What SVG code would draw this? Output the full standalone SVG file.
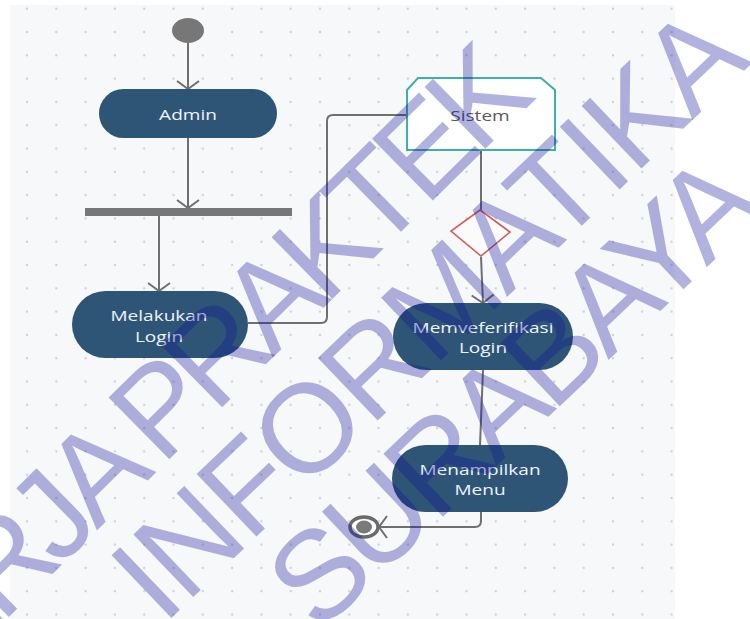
<svg xmlns="http://www.w3.org/2000/svg" width="750" height="619" viewBox="0 0 750 619">
  <defs>
    <pattern id="dots" x="12.35" y="20.35" width="29.3" height="23.3" patternUnits="userSpaceOnUse">
      <circle cx="14.65" cy="11.65" r="1.2" fill="#cfd1d6"/>
    </pattern>
    <marker id="arrow" markerUnits="userSpaceOnUse" markerWidth="20" markerHeight="26" refX="10" refY="13" orient="auto">
      <path d="M2,2 L10,13 L2,24" fill="none" stroke="#6f6f6f" stroke-width="2"/>
    </marker>
    <style>
      .edge { fill: none; stroke: #6f6f6f; stroke-width: 2; }
      .action { fill: #2f5576; }
      .label { font-family: "Open Sans", "Liberation Sans", sans-serif; font-size: 15px; fill: #eef3f8; text-anchor: middle; }
      .dark { fill: #5a5a5a; }
      .mark { font-family: "Liberation Sans", Arial, sans-serif; font-size: 126px; fill: #10109a; fill-opacity: 0.32; }
    </style>
  </defs>

  <!-- canvas -->
  <rect x="0" y="0" width="750" height="619" fill="#ffffff"/>
  <rect x="10" y="5" width="665" height="614" fill="#f7f8fa"/>
  <rect x="10" y="5" width="665" height="614" fill="url(#dots)"/>

  <!-- connectors -->
  <g id="connectors">
    <path class="edge" d="M188,43 L188,89" marker-end="url(#arrow)"/>
    <path class="edge" d="M188,138 L188,208" marker-end="url(#arrow)"/>
    <path class="edge" d="M159,216 L159,291" marker-end="url(#arrow)"/>
    <path class="edge" d="M248,323 H321 Q327,323 327,317 V121 Q327,115 333,115 H407"/>
    <path class="edge" d="M481,150 V210"/>
    <path class="edge" d="M481,257 L483,303" marker-end="url(#arrow)"/>
    <path class="edge" d="M483,370 L480,445"/>
    <path class="edge" d="M481,512 V521 Q481,527 475,527 H379" marker-end="url(#arrow)"/>
  </g>

  <!-- nodes -->
  <g id="start">
    <ellipse cx="188" cy="30.5" rx="16" ry="12.5" fill="#777777"/>
  </g>

  <g id="admin">
    <rect class="action" x="99" y="89" width="178" height="49" rx="24.5"/>
    <text class="label" transform="translate(188,119.5) scale(1.27,1)">Admin</text>
  </g>

  <g id="fork">
    <rect x="85" y="208" width="207" height="8" fill="#777777"/>
  </g>

  <g id="melakukan-login">
    <rect class="action" x="72" y="291" width="176" height="67" rx="33.5"/>
    <text class="label" transform="translate(159,321) scale(1.27,1)">Melakukan</text>
    <text class="label" transform="translate(159,342) scale(1.27,1)">Login</text>
  </g>

  <g id="sistem">
    <polygon points="418,78 541,78 555,90 555,150 407,150 407,90" fill="#ffffff" stroke="#3cb2a6" stroke-width="2"/>
    <text class="label dark" transform="translate(480,121) scale(1.27,1)">Sistem</text>
  </g>

  <g id="decision">
    <polygon points="480,210 510,232 481,256 451,231" fill="#fbfbfc" stroke="#d25a5a" stroke-width="1.6"/>
  </g>

  <g id="memveferifikasi-login">
    <rect class="action" x="393" y="303" width="180" height="67" rx="33.5"/>
    <text class="label" transform="translate(483,333) scale(1.27,1)">Memveferifikasi</text>
    <text class="label" transform="translate(483,353) scale(1.27,1)">Login</text>
  </g>

  <g id="menampilkan-menu">
    <rect class="action" x="392" y="445" width="176" height="67" rx="33.5"/>
    <text class="label" transform="translate(480,475) scale(1.27,1)">Menampilkan</text>
    <text class="label" transform="translate(480,495) scale(1.27,1)">Menu</text>
  </g>

  <g id="end">
    <ellipse cx="364" cy="527" rx="14" ry="10" fill="#ffffff" stroke="#6a6a6a" stroke-width="3.5"/>
    <ellipse cx="364" cy="527" rx="8" ry="6.5" fill="#7a7a7a"/>
  </g>

  <!-- watermark -->
  <g id="watermark">
    <text class="mark" text-anchor="end" transform="translate(538,97) rotate(-44.5)" textLength="900" lengthAdjust="spacing">KERJA PRAKTEK</text>
    <text class="mark" text-anchor="middle" transform="translate(458,344) rotate(-43.7)" textLength="816" lengthAdjust="spacing">INFORMATIKA</text>
    <text class="mark" text-anchor="middle" transform="translate(543,422) rotate(-43.4)" textLength="618" lengthAdjust="spacing">SURABAYA</text>
  </g>
</svg>
